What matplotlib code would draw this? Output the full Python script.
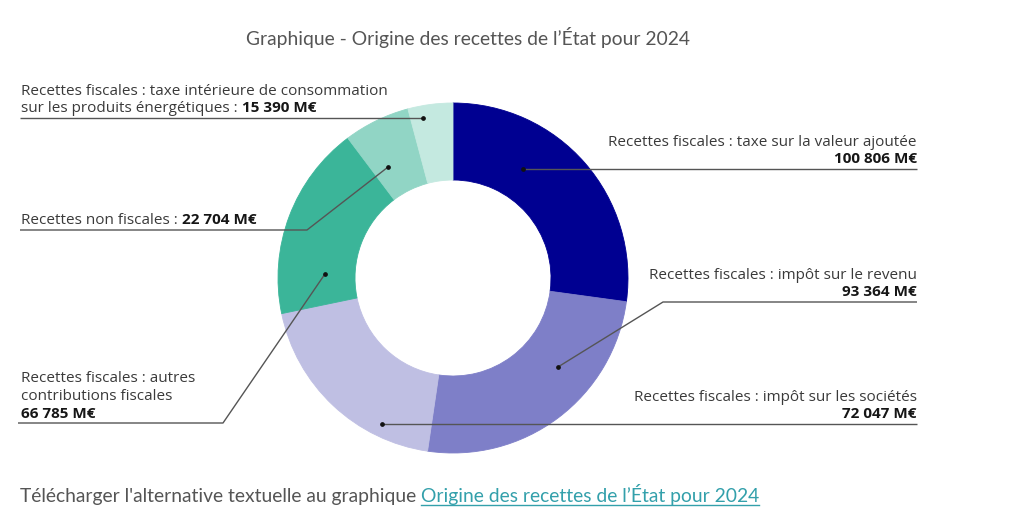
import matplotlib
matplotlib.use("Agg")
import matplotlib.pyplot as plt
import numpy as np

# ---------------- data ----------------
categories = [
    "Recettes fiscales : taxe sur la valeur ajoutée",
    "Recettes fiscales : impôt sur le revenu",
    "Recettes fiscales : impôt sur les sociétés",
    "Recettes fiscales : autres contributions fiscales",
    "Recettes non fiscales",
    "Recettes fiscales : taxe intérieure de consommation sur les produits énergétiques",
]
values = [100806, 93364, 72047, 66785, 22704, 15390]
value_labels = ["100 806 M€", "93 364 M€", "72 047 M€", "66 785 M€", "22 704 M€", "15 390 M€"]
colors = ["#000091", "#7e7fc8", "#bfbfe3", "#3bb599", "#91d5c5", "#c4e9e0"]
title = "Graphique - Origine des recettes de l’État pour 2024"
footer_text = "Télécharger l'alternative textuelle au graphique "
footer_link = "Origine des recettes de l’État pour 2024"

# label line breaks: list of lines, each line a list of (text, is_value)
label_lines = [
    [[("Recettes fiscales : taxe sur la valeur ajoutée", False)], [(value_labels[0], True)]],
    [[("Recettes fiscales : impôt sur le revenu", False)], [(value_labels[1], True)]],
    [[("Recettes fiscales : impôt sur les sociétés", False)], [(value_labels[2], True)]],
    [[("Recettes fiscales : autres", False)], [("contributions fiscales", False)], [(value_labels[3], True)]],
    [[("Recettes non fiscales : ", False), (value_labels[4], True)]],
    [[("Recettes fiscales : taxe intérieure de consommation", False)],
     [("sur les produits énergétiques : ", False), (value_labels[5], True)]],
]

# ---------------- layout (image pixel coords, y from top) ----------------
W, H = 1024, 522
CX, CY = 453, 278
R_OUT, R_IN = 175, 98
# anchor: (fraction along wedge clockwise, radius), elbow point or None, end x, side
anchors = [
    (0.334, 129.5, None, 917, "right"),
    (0.359, 137.6, (663, 302), 917, "right"),
    (0.25, 162.0, None, 917, "right"),
    (0.21, 128.0, (223, 423), 18, "left"),
    (0.30, 128.6, (307, 230), 20, "left"),
    (0.29, 162.8, None, 20, "left"),
]
TEXT_X_RIGHT = 917
TEXT_X_LEFT = 21
LINE_SP = 17.8
BASE_OFF = 5.5

FONT = "Open Sans"
FS = 11.0
REG_COLOR = "#3a3a3a"
BOLD_COLOR = "#161616"
LINE_COLOR = "#555555"
LINK_COLOR = "#33a0ab"


def Y(y):
    return H - y


fig = plt.figure(figsize=(W / 100, H / 100), dpi=100)
ax = fig.add_axes([0, 0, 1, 1])
wedges, _ = ax.pie(
    values,
    colors=colors,
    startangle=90,
    counterclock=False,
    radius=R_OUT,
    center=(CX, Y(CY)),
    wedgeprops=dict(width=R_OUT - R_IN, linewidth=0.6, antialiased=True),
)
for w, c in zip(wedges, colors):
    w.set_edgecolor(c)
ax.set_xlim(0, W)
ax.set_ylim(0, H)
ax.set_aspect("equal")
ax.axis("off")

fig.canvas.draw()
renderer = fig.canvas.get_renderer()


def draw_runs(x, y, runs, ha="left", fs=FS):
    """draw a line made of several runs (regular / bold) starting at x (left) or ending at x (right)."""
    arts = []
    cx = x
    for txt, bold in runs:
        t = ax.text(cx, y, txt, fontsize=fs, family=FONT,
                    fontweight="bold" if bold else "normal",
                    color=BOLD_COLOR if bold else REG_COLOR,
                    ha="left", va="baseline")
        bb = t.get_window_extent(renderer)
        cx = cx + bb.width
        arts.append(t)
    if ha == "right":
        total = cx - x
        for t in arts:
            t.set_x(t.get_position()[0] - total)
    return arts


for i, (w, (frac, rr, elbow, endx, side)) in enumerate(zip(wedges, anchors)):
    ang = np.deg2rad(w.theta2 - frac * (w.theta2 - w.theta1))
    dx, dy = CX + rr * np.cos(ang), Y(CY) + rr * np.sin(ang)
    if elbow is None:
        pts = [(dx, dy), (endx, dy)]
        line_y = dy
    else:
        pts = [(dx, dy), (elbow[0], Y(elbow[1])), (endx, Y(elbow[1]))]
        line_y = Y(elbow[1])
    xs, ys = zip(*pts)
    ax.plot(xs, ys, color=LINE_COLOR, lw=1.0, solid_capstyle="butt", zorder=5)
    ax.plot([dx], [dy], "o", color="#111111", ms=2.4, zorder=6)
    lines = label_lines[i]
    n = len(lines)
    for k, runs in enumerate(lines):
        by = line_y + BASE_OFF + (n - 1 - k) * LINE_SP
        if side == "right":
            draw_runs(TEXT_X_RIGHT, by, runs, ha="right")
        else:
            draw_runs(TEXT_X_LEFT, by, runs, ha="left")

# title
ax.text(468, Y(37), title, fontsize=13.85, family="Lato", color="#555555",
        ha="center", va="center")

# footer
FFS = 13.85
ft = ax.text(20, Y(502), footer_text, fontsize=FFS, family="Lato", color="#555555",
             ha="left", va="baseline")
bb = ft.get_window_extent(renderer)
lx = 20 + bb.width
lt = ax.text(lx, Y(502), footer_link, fontsize=FFS, family="Lato", color=LINK_COLOR,
             ha="left", va="baseline")
lb = lt.get_window_extent(renderer)
ax.plot([lx, lx + lb.width], [Y(504.6), Y(504.6)], color=LINK_COLOR, lw=1.0)

fig.savefig("out.png", dpi=100)
